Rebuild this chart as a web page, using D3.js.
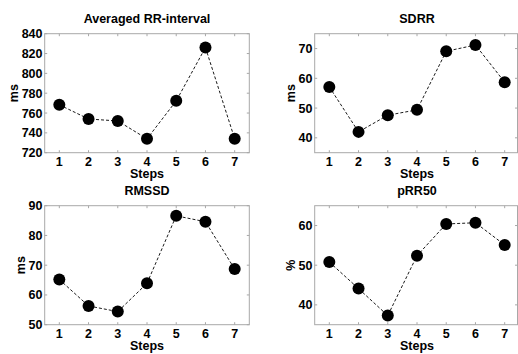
<!DOCTYPE html>
<html>
<head>
<meta charset="utf-8">
<script src="https://cdn.jsdelivr.net/npm/d3@7"></script>
<style>
  html, body { margin: 0; padding: 0; background: #fff; }
  svg { display: block; }
</style>
</head>
<body>
<div id="chart"></div>
<script>
const steps = [1, 2, 3, 4, 5, 6, 7];

const rrValues = [768.3, 754, 752, 734, 772.3, 826, 734];
const sdrrValues = [57.1, 42, 47.6, 49.4, 69.1, 71.2, 58.7];
const rmssdValues = [65.2, 56.3, 54.4, 63.9, 86.6, 84.6, 68.7];
const prr50Values = [50.8, 44.1, 37.3, 52.4, 60.4, 60.7, 55.1];

const rrTicks = [720, 740, 760, 780, 800, 820, 840];
const sdrrTicks = [40, 50, 60, 70];
const rmssdTicks = [50, 60, 70, 80, 90];
const prr50Ticks = [40, 50, 60];

const titles = ['Averaged RR-interval', 'SDRR', 'RMSSD', 'pRR50'];
const yLabels = ['ms', 'ms', 'ms', '%'];
const xLabel = 'Steps';

const width = 518;
const height = 354;
const axW = 204.6;

const panels = [
  { title: titles[0], ylab: yLabels[0], values: rrValues, ticks: rrTicks, ydom: [720, 840], x0: 44.7, x1: 249.3, y0: 33.7, y1: 152.7, labX: 13.5 },
  { title: titles[1], ylab: yLabels[1], values: sdrrValues, ticks: sdrrTicks, ydom: [35, 75], x0: 314.7, x1: 517.5, y0: 33.7, y1: 152.7, labX: 291 },
  { title: titles[2], ylab: yLabels[2], values: rmssdValues, ticks: rmssdTicks, ydom: [50, 90], x0: 44.7, x1: 249.3, y0: 205.7, y1: 324.7, labX: 21 },
  { title: titles[3], ylab: yLabels[3], values: prr50Values, ticks: prr50Ticks, ydom: [35, 65], x0: 314.7, x1: 517.5, y0: 205.7, y1: 324.7, labX: 290.5 }
];

const svg = d3.select('#chart')
  .append('svg')
  .attr('width', width)
  .attr('height', height)
  .attr('font-family', 'Liberation Sans, Arial, sans-serif')
  .attr('font-weight', 'bold');

const frameColor = '#a8a8a8';

panels.forEach(p => {
  const x = d3.scaleLinear().domain([0.5, 7.5]).range([p.x0, p.x0 + axW]);
  const y = d3.scaleLinear().domain(p.ydom).range([p.y1, p.y0]);
  const g = svg.append('g');

  // frame
  g.append('rect')
    .attr('x', p.x0)
    .attr('y', p.y0)
    .attr('width', p.x1 - p.x0)
    .attr('height', p.y1 - p.y0)
    .attr('fill', 'none')
    .attr('stroke', frameColor)
    .attr('stroke-width', 1);

  // inward ticks on all four sides
  const tickLen = 2.5;
  g.append('g').selectAll('line')
    .data(steps)
    .join('line')
    .attr('x1', d => x(d)).attr('x2', d => x(d))
    .attr('y1', p.y1).attr('y2', p.y1 - tickLen)
    .attr('stroke', frameColor);
  g.append('g').selectAll('line')
    .data(steps)
    .join('line')
    .attr('x1', d => x(d)).attr('x2', d => x(d))
    .attr('y1', p.y0).attr('y2', p.y0 + tickLen)
    .attr('stroke', frameColor);
  g.append('g').selectAll('line')
    .data(p.ticks)
    .join('line')
    .attr('x1', p.x0).attr('x2', p.x0 + tickLen)
    .attr('y1', d => y(d)).attr('y2', d => y(d))
    .attr('stroke', frameColor);
  g.append('g').selectAll('line')
    .data(p.ticks)
    .join('line')
    .attr('x1', p.x1).attr('x2', p.x1 - tickLen)
    .attr('y1', d => y(d)).attr('y2', d => y(d))
    .attr('stroke', frameColor);

  // tick labels
  g.append('g').selectAll('text')
    .data(steps)
    .join('text')
    .attr('x', d => x(d))
    .attr('y', p.y1 + 13)
    .attr('text-anchor', 'middle')
    .attr('font-size', 12.5)
    .text(d => d);
  g.append('g').selectAll('text')
    .data(p.ticks)
    .join('text')
    .attr('x', p.x0 - 2.2)
    .attr('y', d => y(d))
    .attr('dy', '0.36em')
    .attr('text-anchor', 'end')
    .attr('font-size', 12.5)
    .text(d => d);

  // title, x label, y label
  g.append('text')
    .attr('x', p.x0 + axW / 2)
    .attr('y', p.y0 - 11)
    .attr('text-anchor', 'middle')
    .attr('font-size', 12.5)
    .text(p.title);
  g.append('text')
    .attr('x', p.x0 + axW / 2)
    .attr('y', p.y1 + 25.5)
    .attr('text-anchor', 'middle')
    .attr('font-size', 12.5)
    .text(xLabel);
  g.append('text')
    .attr('transform', `translate(${p.labX},${(p.y0 + p.y1) / 2}) rotate(-90)`)
    .attr('text-anchor', 'middle')
    .attr('dominant-baseline', 'central')
    .attr('font-size', 12.5)
    .text(p.ylab);

  // dashed line + markers
  const pts = steps.map((s, i) => ({ s, v: p.values[i] }));
  g.append('path')
    .datum(pts)
    .attr('fill', 'none')
    .attr('stroke', '#000')
    .attr('stroke-width', 0.9)
    .attr('stroke-dasharray', '3,2')
    .attr('d', d3.line().x(d => x(d.s)).y(d => y(d.v)));
  g.append('g').selectAll('circle')
    .data(pts)
    .join('circle')
    .attr('cx', d => x(d.s))
    .attr('cy', d => y(d.v))
    .attr('r', 6)
    .attr('fill', '#000');
});
</script>
</body>
</html>
